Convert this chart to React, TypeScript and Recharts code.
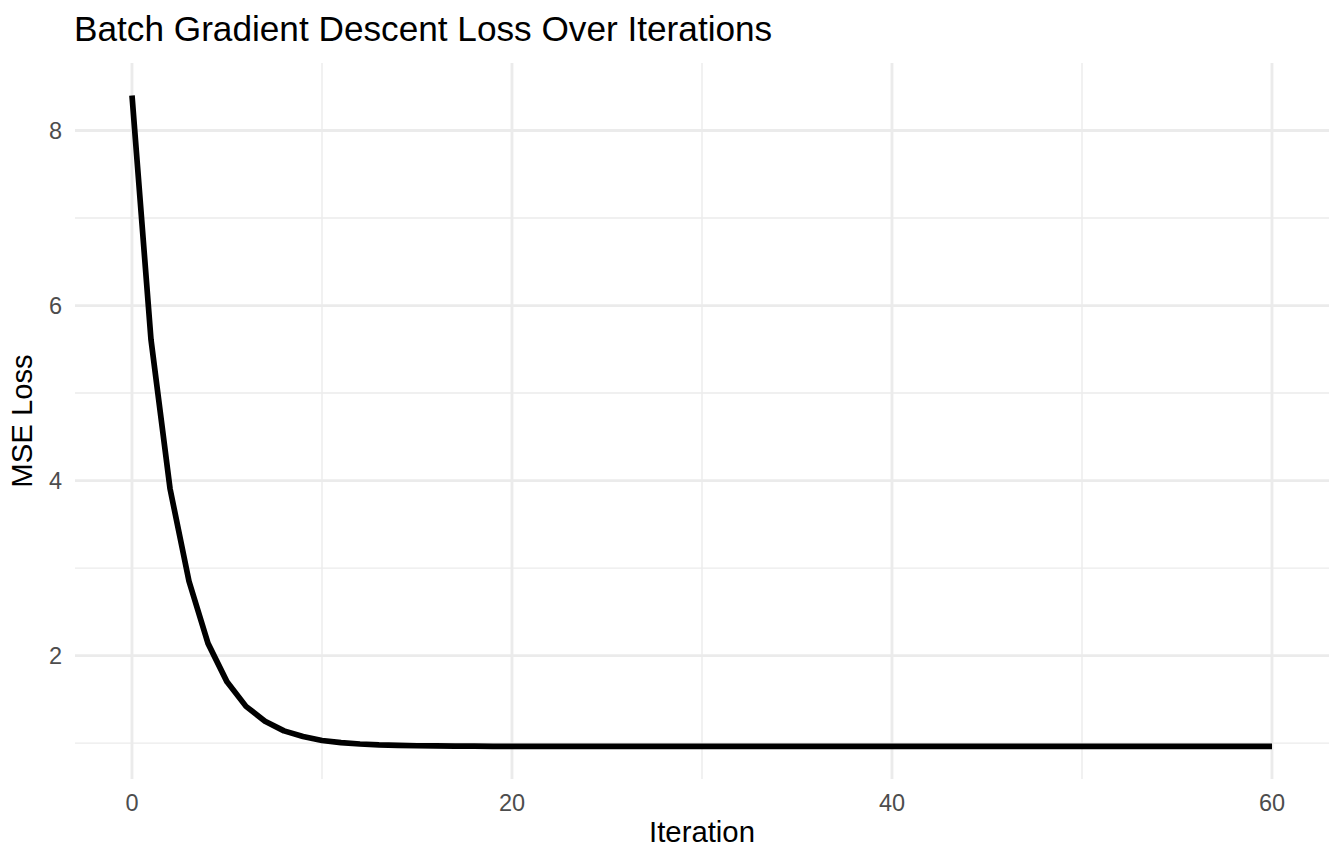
import React from 'react';
import { LineChart, Line, XAxis, YAxis, ReferenceLine } from 'recharts';

const iterations = [
  0, 1, 2, 3, 4, 5, 6, 7, 8, 9, 10, 11, 12, 13, 14, 15, 16, 17, 18, 19, 20,
  21, 22, 23, 24, 25, 26, 27, 28, 29, 30, 31, 32, 33, 34, 35, 36, 37, 38, 39, 40,
  41, 42, 43, 44, 45, 46, 47, 48, 49, 50, 51, 52, 53, 54, 55, 56, 57, 58, 59, 60,
];

const mseLoss = [
  8.40, 5.61, 3.91, 2.85, 2.14, 1.70, 1.42, 1.25, 1.14, 1.075, 1.03,
  1.005, 0.99, 0.98, 0.975, 0.970, 0.968, 0.966, 0.965, 0.964, 0.963,
  0.963, 0.962, 0.962, 0.962, 0.962, 0.962, 0.962, 0.962, 0.962, 0.962,
  0.962, 0.962, 0.962, 0.962, 0.962, 0.962, 0.962, 0.962, 0.962, 0.962,
  0.962, 0.962, 0.962, 0.962, 0.962, 0.962, 0.962, 0.962, 0.962, 0.962,
  0.962, 0.962, 0.962, 0.962, 0.962, 0.962, 0.962, 0.962, 0.962, 0.962,
];

const xMajorTicks = [0, 20, 40, 60];
const xMinorTicks = [10, 30, 50];
const yMajorTicks = [2, 4, 6, 8];
const yMinorTicks = [1, 3, 5, 7];

const data = iterations.map((it, i) => ({ iteration: it, loss: mseLoss[i] }));

// ggplot-style 5% expansion of the data range
const xMin = Math.min(...iterations);
const xMax = Math.max(...iterations);
const xPad = (xMax - xMin) * 0.05;
const yMin = Math.min(...mseLoss);
const yMax = Math.max(...mseLoss);
const yPad = (yMax - yMin) * 0.05;

const FONT = '"Liberation Sans", Arial, Helvetica, sans-serif';
const GRID = '#ebebeb';
const MAJOR_W = 2.85;
const MINOR_W = 1.42;

export default function App() {
  return (
    <div
      style={{
        position: 'absolute',
        left: 0,
        top: 0,
        width: 1344,
        height: 864,
        background: '#ffffff',
        fontFamily: FONT,
      }}
    >
      <div
        style={{
          position: 'absolute',
          left: 74,
          top: 11,
          fontSize: 35.2,
          lineHeight: 1,
          color: '#000000',
          fontFamily: FONT,
          whiteSpace: 'nowrap',
        }}
      >
        Batch Gradient Descent Loss Over Iterations
      </div>
      <LineChart
        width={1344}
        height={864}
        data={data}
        margin={{ top: 63, right: 15, bottom: 0, left: 0 }}
      >
        <XAxis
          dataKey="iteration"
          type="number"
          domain={[xMin - xPad, xMax + xPad]}
          ticks={xMajorTicks}
          allowDataOverflow
          height={85}
          axisLine={false}
          tickLine={false}
          tickSize={7}
          tickMargin={8}
          tick={{ fontSize: 23.5, fill: '#4d4d4d', fontFamily: FONT }}
          label={{
            content: (props: any) => {
              const vb = props.viewBox || {};
              return (
                <text
                  x={vb.x + vb.width / 2}
                  y={vb.y + vb.height - 22}
                  textAnchor="middle"
                  fontSize={29.3}
                  fill="#000000"
                  fontFamily={FONT}
                >
                  Iteration
                </text>
              );
            },
          }}
        />
        <YAxis
          type="number"
          domain={[yMin - yPad, yMax + yPad]}
          ticks={yMajorTicks}
          allowDataOverflow
          width={75}
          axisLine={false}
          tickLine={false}
          tickSize={7}
          tickMargin={6}
          tick={{ fontSize: 23.5, fill: '#4d4d4d', fontFamily: FONT }}
          label={{
            content: (props: any) => {
              const vb = props.viewBox || {};
              const cx = vb.x + 32;
              const cy = vb.y + vb.height / 2;
              return (
                <text
                  x={cx}
                  y={cy}
                  transform={`rotate(-90 ${cx} ${cy})`}
                  textAnchor="middle"
                  fontSize={29.3}
                  fill="#000000"
                  fontFamily={FONT}
                >
                  MSE Loss
                </text>
              );
            },
          }}
        />
        {yMinorTicks.map((v) => (
          <ReferenceLine key={`ym${v}`} y={v} stroke={GRID} strokeWidth={MINOR_W} zIndex={-50} />
        ))}
        {xMinorTicks.map((v) => (
          <ReferenceLine key={`xm${v}`} x={v} stroke={GRID} strokeWidth={MINOR_W} zIndex={-50} />
        ))}
        {yMajorTicks.map((v) => (
          <ReferenceLine key={`yM${v}`} y={v} stroke={GRID} strokeWidth={MAJOR_W} zIndex={-40} />
        ))}
        {xMajorTicks.map((v) => (
          <ReferenceLine key={`xM${v}`} x={v} stroke={GRID} strokeWidth={MAJOR_W} zIndex={-40} />
        ))}
        <Line
          type="linear"
          dataKey="loss"
          stroke="#000000"
          strokeWidth={5.7}
          strokeLinejoin="round"
          strokeLinecap="butt"
          dot={false}
          activeDot={false}
          isAnimationActive={false}
        />
      </LineChart>
    </div>
  );
}
